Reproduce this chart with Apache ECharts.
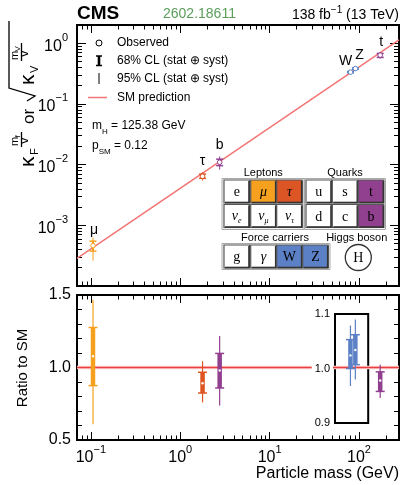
<!DOCTYPE html>
<html><head><meta charset="utf-8">
<script src="https://cdn.jsdelivr.net/npm/echarts@6/dist/echarts.min.js"></script>
<style>html,body{margin:0;padding:0;background:#fff}#c{width:402px;height:485px}</style>
</head><body><div id="c"></div>
<script>
// ---------- data ----------
const particles = ['μ', 'τ', 'b', 'W', 'Z', 't'];
const masses = [0.1057, 1.777, 2.76, 80.38, 91.19, 172.5];
// top panel: kappa_F m_F / v  or sqrt(kappa_V) m_V / v
const coupling  = [4.63e-4, 6.43e-3, 1.097e-2, 0.3343, 0.3830, 0.6375];
const coupLo68  = [3.76e-4, 5.95e-3, 9.63e-3, 0.3265, 0.3730, 0.585];
const coupHi68  = [5.48e-4, 6.98e-3, 1.230e-2, 0.3438, 0.3934, 0.680];
const coupLo95  = [2.61e-4, 5.48e-3, 8.27e-3, 0.3161, 0.3630, 0.553];
const coupHi95  = [6.30e-4, 7.53e-3, 1.364e-2, 0.3523, 0.4037, 0.714];
// bottom panel: ratio to SM
const ratio     = [1.078, 0.891, 0.979, 1.024, 1.034, 0.910];
const ratioLo68 = [0.875, 0.824, 0.859, 1.000, 1.007, 0.835];
const ratioHi68 = [1.276, 0.967, 1.097, 1.053, 1.062, 0.970];
const ratioLo95 = [0.609, 0.759, 0.738, 0.968, 0.980, 0.790];
const ratioHi95 = [1.467, 1.044, 1.217, 1.079, 1.090, 1.019];
const inInset   = [false, false, false, true, true, false];
// SM prediction line
const smMass = [0.07, 280];
const smCoupling = [2.843e-4, 1.137];
const smRatio = [1, 1];
// ticks
const xMajorTicks = [0.1, 1, 10, 100];
const xMinorTicks = [0.08, 0.09, 0.2, 0.3, 0.4, 0.5, 0.6, 0.7, 0.8, 0.9, 2, 3, 4, 5, 6, 7, 8, 9,
                     20, 30, 40, 50, 60, 70, 80, 90, 200];
const yMajorTicks = [1e-4, 1e-3, 1e-2, 0.1, 1];
const yLabelTicks = [1e-3, 1e-2, 0.1, 1];
const yMinorTicks = [2e-4, 3e-4, 4e-4, 5e-4, 6e-4, 7e-4, 8e-4, 9e-4,
                     2e-3, 3e-3, 4e-3, 5e-3, 6e-3, 7e-3, 8e-3, 9e-3,
                     0.02, 0.03, 0.04, 0.05, 0.06, 0.07, 0.08, 0.09,
                     0.2, 0.3, 0.4, 0.5, 0.6, 0.7, 0.8, 0.9, 2];
const ratioTicks = [0.5, 1.0, 1.5];
const insetTicks = [0.9, 1.0, 1.1];

// ---------- styles ----------
const colors = ['#f5a11f', '#df5522', '#913f8f', '#5b80c6', '#5b80c6', '#913f8f'];
const labelDx = [1, 0, 0, -5, 4, 1];
const labelDy = [-15, -15, -17, -11, -13, -13];
const SANS = '"Liberation Sans", Arial, sans-serif';
const SERIF = '"Liberation Serif", "Times New Roman", serif';

function pow10Label(v) {
  const e = Math.round(Math.log10(v));
  return '{b|10}{s|' + (e < 0 ? '\u2212' + (-e) : e) + '}';
}
const powRich = {
  b: {fontFamily: SANS, fontSize: 16, color: '#000', lineHeight: 22, verticalAlign: 'bottom'},
  s: {fontFamily: SANS, fontSize: 11, color: '#000', lineHeight: 22, verticalAlign: 'top'}
};

function axis(gridIndex, position, type, range, ticks, len, extra) {
  const a = {
    type: type, gridIndex: gridIndex, position: position, min: range[0], max: range[1],
    axisLine: {show: false},
    axisTick: {show: true, inside: true, length: len, customValues: ticks, lineStyle: {color: '#000', width: 1}},
    axisLabel: {show: false},
    splitLine: {show: false}
  };
  if (type === 'log') a.logBase = 10;
  return Object.assign(a, extra || {});
}
const XR = [0.07, 280], YR = [1e-4, 2], RR = [0.5, 1.5];

const xAxes = [
  axis(0, 'bottom', 'log', XR, xMajorTicks, 8),
  axis(0, 'bottom', 'log', XR, xMinorTicks, 4.5),
  axis(0, 'top', 'log', XR, xMajorTicks, 8),
  axis(0, 'top', 'log', XR, xMinorTicks, 4.5),
  axis(1, 'bottom', 'log', XR, xMajorTicks, 8, {
    axisLabel: {show: true, customValues: xMajorTicks, formatter: pow10Label, rich: powRich, margin: 4}
  }),
  axis(1, 'bottom', 'log', XR, xMinorTicks, 4.5),
  axis(1, 'top', 'log', XR, xMajorTicks, 8),
  axis(1, 'top', 'log', XR, xMinorTicks, 4.5),
  {type: 'log', logBase: 10, gridIndex: 2, min: 54, max: 127, show: false}
];
const yAxes = [
  axis(0, 'left', 'log', YR, yMajorTicks, 9, {
    axisLabel: {show: true, customValues: yLabelTicks, formatter: pow10Label, rich: powRich, margin: 9}
  }),
  axis(0, 'left', 'log', YR, yMinorTicks, 5),
  axis(0, 'right', 'log', YR, yMajorTicks, 9),
  axis(0, 'right', 'log', YR, yMinorTicks, 5),
  axis(1, 'left', 'value', RR, ratioTicks, 9, {
    interval: 0.5,
    minorTick: {show: true, splitNumber: 5, length: 5, lineStyle: {color: '#000'}},
    axisLabel: {show: true, customValues: ratioTicks, formatter: v => v.toFixed(1), fontFamily: SANS, fontSize: 16, color: '#000', margin: 6}
  }),
  axis(1, 'right', 'value', RR, ratioTicks, 9, {
    interval: 0.5,
    minorTick: {show: true, splitNumber: 5, length: 5, lineStyle: {color: '#000'}}
  }),
  {type: 'value', gridIndex: 2, min: 0.9, max: 1.1, position: 'left', z: 20,
   axisLine: {show: false}, axisTick: {show: false}, splitLine: {show: false},
   axisLabel: {show: true, customValues: insetTicks, formatter: v => v.toFixed(1), fontFamily: SANS, fontSize: 11,
               color: '#000', margin: 2, backgroundColor: '#fff', padding: [1, 3]}}
];

function buildItems(vals, lo68, hi68, lo95, hi95, filter) {
  const out = [];
  for (let i = 0; i < masses.length; i++) {
    if (filter && !filter(i)) continue;
    out.push([masses[i], vals[i], lo68[i], hi68[i], lo95[i], hi95[i], i]);
  }
  return out;
}

function pointsRender(o) {
  return function (params, api) {
    const x = api.value(0);
    const c = api.coord([x, api.value(1)]);
    const l68 = api.coord([x, api.value(2)])[1], h68 = api.coord([x, api.value(3)])[1];
    const l95 = api.coord([x, api.value(4)])[1], h95 = api.coord([x, api.value(5)])[1];
    const idx = api.value(6);
    const col = colors[idx];
    const ch = [
      {type: 'line', shape: {x1: c[0], y1: l95, x2: c[0], y2: h95}, style: {stroke: col, lineWidth: o.thin}},
      {type: 'line', shape: {x1: c[0], y1: l68, x2: c[0], y2: h68}, style: {stroke: col, lineWidth: o.thick}},
      {type: 'line', shape: {x1: c[0] - o.cap, y1: l68, x2: c[0] + o.cap, y2: l68}, style: {stroke: col, lineWidth: 1.5}},
      {type: 'line', shape: {x1: c[0] - o.cap, y1: h68, x2: c[0] + o.cap, y2: h68}, style: {stroke: col, lineWidth: 1.5}},
      {type: 'circle', shape: {cx: c[0], cy: c[1], r: o.r}, style: {fill: '#fff', stroke: o.ring ? col : null, lineWidth: 1}}
    ];
    if (o.label) {
      ch.push({type: 'text', x: c[0] + labelDx[idx], y: c[1] + labelDy[idx],
        style: {text: particles[idx], font: '14px ' + SANS, fill: '#000', align: 'center', verticalAlign: 'middle'}});
    }
    return {type: 'group', children: ch};
  };
}

// ---------- decorations ----------
function t(x, y, text, size, extra) {
  return Object.assign({type: 'text', x: x, y: y, silent: true,
    style: Object.assign({text: text, font: size + 'px ' + SANS, fill: '#000', verticalAlign: 'middle'}, (extra && extra.style) || {})},
    extra ? {rotation: extra.rotation || 0} : {});
}
function rt(x, y, text, rich, extra) {
  return Object.assign({type: 'text', x: x, y: y, silent: true,
    style: Object.assign({text: text, rich: rich, verticalAlign: 'middle', fill: '#000'}, (extra && extra.style) || {})},
    extra && extra.rotation ? {rotation: extra.rotation} : {});
}
function ln(x1, y1, x2, y2, col, w) {
  return {type: 'line', silent: true, shape: {x1: x1, y1: y1, x2: x2, y2: y2}, style: {stroke: col, lineWidth: w}};
}
const R90 = Math.PI / 2;
const graphics = [];
// header
graphics.push(t(77, 14, 'CMS', 19, {style: {font: 'bold 19px ' + SANS}}));
graphics.push(t(163, 14, '2602.18611', 14, {style: {fill: '#5a9e5a'}}));
graphics.push(rt(399, 14, '{a|138 fb}{b|\u22121}{a| (13 TeV)}', {
  a: {font: '14px ' + SANS, lineHeight: 17, verticalAlign: 'bottom'},
  b: {font: '10px ' + SANS, lineHeight: 17, verticalAlign: 'top'}
}, {style: {align: 'right'}}));
// y axis title (top) -- rotated pieces; x is the box bottom (baseline + ~0.17em)
function ry(x, y, text, font) {
  return {type: 'text', x: x, y: y, rotation: R90, silent: true,
    style: {text: text, font: font, fill: '#000', align: 'left', verticalAlign: 'bottom'}};
}
graphics.push(ry(39, 167, 'κ', '21px ' + SANS));
graphics.push(ry(40, 155, 'F', '11px ' + SANS));
graphics.push(ry(20, 146, 'm', '11px ' + SANS));
graphics.push(ry(21.5, 137.5, 'f', '8px ' + SANS));
graphics.push(ln(21.5, 147, 21.5, 132, '#000', 1.3));
graphics.push(ry(31, 144, 'v', '13px ' + SANS));
graphics.push(ry(38, 124, 'or', '17px ' + SANS));
graphics.push({type: 'polyline', silent: true, shape: {points: [[27, 101], [35, 96], [9, 88], [9, 21]]},
  style: {stroke: '#000', lineWidth: 1.3, fill: null}});
graphics.push(ry(39, 85, 'κ', '21px ' + SANS));
graphics.push(ry(40, 73, 'V', '11px ' + SANS));
graphics.push(ry(20, 60, 'm', '11px ' + SANS));
graphics.push(ry(21.5, 51.5, 'V', '8px ' + SANS));
graphics.push(ln(21.5, 61, 21.5, 43, '#000', 1.3));
graphics.push(ry(31, 57, 'v', '13px ' + SANS));
// y axis title (bottom)
graphics.push({type: 'text', x: 23, y: 368, rotation: R90, silent: true,
  style: {text: 'Ratio to SM', font: '15px ' + SANS, fill: '#000', align: 'center', verticalAlign: 'middle'}});
// x axis title
graphics.push(t(399, 474, 'Particle mass (GeV)', 16, {style: {align: 'right'}}));
// legend
graphics.push({type: 'circle', silent: true, shape: {cx: 99, cy: 43, r: 3}, style: {fill: '#fff', stroke: '#000', lineWidth: 1}});
graphics.push(ln(99, 56, 99, 65.5, '#000', 2.6));
graphics.push(ln(96, 56, 102, 56, '#000', 1.5));
graphics.push(ln(96, 65.5, 102, 65.5, '#000', 1.5));
graphics.push(ln(99, 73, 99, 84, '#000', 1));
graphics.push(ln(88, 97.5, 107, 97.5, '#f27474', 1.5));
graphics.push(t(117, 43, 'Observed', 12));
graphics.push(t(117, 61, '68% CL (stat \u2295 syst)', 12));
graphics.push(t(117, 79, '95% CL (stat \u2295 syst)', 12));
graphics.push(t(117, 97.5, 'SM prediction', 12));
const annRich = {
  a: {font: '12px ' + SANS, lineHeight: 16, verticalAlign: 'top'},
  s: {font: '8px ' + SANS, lineHeight: 16, verticalAlign: 'bottom'}
};
graphics.push(rt(92, 128, '{a|m}{s|H}{a| = 125.38 GeV}', annRich));
graphics.push(rt(92, 148, '{a|p}{s|SM}{a| = 0.12}', annRich));

// particle table
function box(x, y, label, fill, italic, sub) {
  const w = 25.5, h = 23;
  const g = [
    {type: 'rect', silent: true, shape: {x: x, y: y, width: w, height: h}, style: {fill: fill, stroke: '#555', lineWidth: 1.2}},
    ln(x + w - 0.5, y + 1, x + w - 0.5, y + h, '#333', 1.6),
    ln(x + 1, y + h - 0.5, x + w, y + h - 0.5, '#333', 1.6)
  ];
  const font = (italic ? 'italic ' : '') + '14px ' + SERIF;
  if (sub) {
    g.push({type: 'text', silent: true, x: x + w / 2, y: y + h / 2 + 1, style: {
      text: '{a|' + label + '}{b|' + sub + '}', align: 'center', verticalAlign: 'middle', fill: '#000',
      rich: {a: {font: font, lineHeight: 16, verticalAlign: 'top'}, b: {font: 'italic 8px ' + SERIF, lineHeight: 16, verticalAlign: 'bottom'}}}});
  } else {
    g.push({type: 'text', silent: true, x: x + w / 2, y: y + h / 2 + 1, style: {
      text: label, font: font, align: 'center', verticalAlign: 'middle', fill: '#000'}});
  }
  return g;
}
const cLep = [224, 250.7, 276.7], cQ = [306, 332.3, 358.3];
graphics.push({type: 'rect', silent: true, shape: {x: 222, y: 178.5, width: 82, height: 51}, style: {fill: '#f2f2f2', stroke: '#aaa', lineWidth: 1}});
graphics.push({type: 'rect', silent: true, shape: {x: 304.5, y: 178.5, width: 81, height: 51}, style: {fill: '#f2f2f2', stroke: '#aaa', lineWidth: 1}});
graphics.push({type: 'rect', silent: true, shape: {x: 222, y: 243.5, width: 108, height: 26}, style: {fill: '#f2f2f2', stroke: '#aaa', lineWidth: 1}});
[].concat(
  box(cLep[0], 180, 'e', '#fff'), box(cLep[1], 180, 'μ', '#f5a11f', true), box(cLep[2], 180, 'τ', '#dc5524', true),
  box(cQ[0], 180, 'u', '#fff'), box(cQ[1], 180, 's', '#fff'), box(cQ[2], 180, 't', '#913f8f'),
  box(cLep[0], 204.5, 'ν', '#fff', true, 'e'), box(cLep[1], 204.5, 'ν', '#fff', true, 'μ'), box(cLep[2], 204.5, 'ν', '#fff', true, 'τ'),
  box(cQ[0], 204.5, 'd', '#fff'), box(cQ[1], 204.5, 'c', '#fff'), box(cQ[2], 204.5, 'b', '#913f8f'),
  box(224, 245, 'g', '#fff'), box(250.7, 245, 'γ', '#fff', true), box(276.7, 245, 'W', '#5b80c6'), box(302.7, 245, 'Z', '#5b80c6')
).forEach(e => graphics.push(e));
graphics.push({type: 'circle', silent: true, shape: {cx: 358.3, cy: 257.5, r: 13}, style: {fill: '#fff', stroke: '#333', lineWidth: 1.3}});
graphics.push({type: 'text', silent: true, x: 358.3, y: 258.5, style: {text: 'H', font: '14px ' + SERIF, fill: '#000', align: 'center', verticalAlign: 'middle'}});
graphics.push(t(263.3, 172.5, 'Leptons', 11, {style: {align: 'center'}}));
graphics.push(t(345, 172.5, 'Quarks', 11, {style: {align: 'center'}}));
graphics.push(t(275, 237.5, 'Force carriers', 11, {style: {align: 'center'}}));
graphics.push(t(356.7, 237.5, 'Higgs boson', 11, {style: {align: 'center'}}));

const option = {
  animation: false,
  backgroundColor: '#fff',
  grid: [
    {left: 77, top: 25, width: 322, height: 261, show: true, borderColor: '#000', borderWidth: 2, backgroundColor: 'transparent'},
    {left: 77, top: 295, width: 322, height: 145, show: true, borderColor: '#000', borderWidth: 2, backgroundColor: 'transparent'},
    {left: 335, top: 314, width: 33.2, height: 109, show: true, borderColor: '#000', borderWidth: 2, backgroundColor: 'transparent'}
  ],
  xAxis: xAxes,
  yAxis: yAxes,
  series: [
    {type: 'line', xAxisIndex: 0, yAxisIndex: 0, silent: true, symbol: 'none',
     data: smMass.map((m, i) => [m, smCoupling[i]]), lineStyle: {color: '#f27474', width: 1.5}, z: 2},
    {type: 'custom', xAxisIndex: 0, yAxisIndex: 0, silent: true, z: 5,
     data: buildItems(coupling, coupLo68, coupHi68, coupLo95, coupHi95),
     renderItem: pointsRender({thin: 1, thick: 2, cap: 3.5, r: 2.3, ring: true, label: true}), encode: {x: 0, y: 1}},
    {type: 'line', xAxisIndex: 4, yAxisIndex: 4, silent: true, symbol: 'none',
     data: smMass.map((m, i) => [m, smRatio[i]]), lineStyle: {color: '#fbd3d3', width: 3.5}, z: 1},
    {type: 'line', xAxisIndex: 4, yAxisIndex: 4, silent: true, symbol: 'none',
     data: smMass.map((m, i) => [m, smRatio[i]]), lineStyle: {color: '#ea3f3c', width: 1.3}, z: 2},
    {type: 'custom', xAxisIndex: 4, yAxisIndex: 4, silent: true, z: 5,
     data: buildItems(ratio, ratioLo68, ratioHi68, ratioLo95, ratioHi95, i => !inInset[i]),
     renderItem: pointsRender({thin: 1.2, thick: 4.5, cap: 4.5, r: 1.2, ring: false}), encode: {x: 0, y: 1}},
    {type: 'custom', xAxisIndex: 8, yAxisIndex: 6, silent: true, z: 5,
     data: buildItems(ratio, ratioLo68, ratioHi68, ratioLo95, ratioHi95, i => inInset[i]),
     renderItem: pointsRender({thin: 1.2, thick: 4.5, cap: 4.5, r: 1.2, ring: false}), encode: {x: 0, y: 1}}
  ],
  graphic: graphics
};
const chart = echarts.init(document.getElementById('c'), null, {renderer: 'canvas'});
chart.setOption(option);
</script>
</body></html>
